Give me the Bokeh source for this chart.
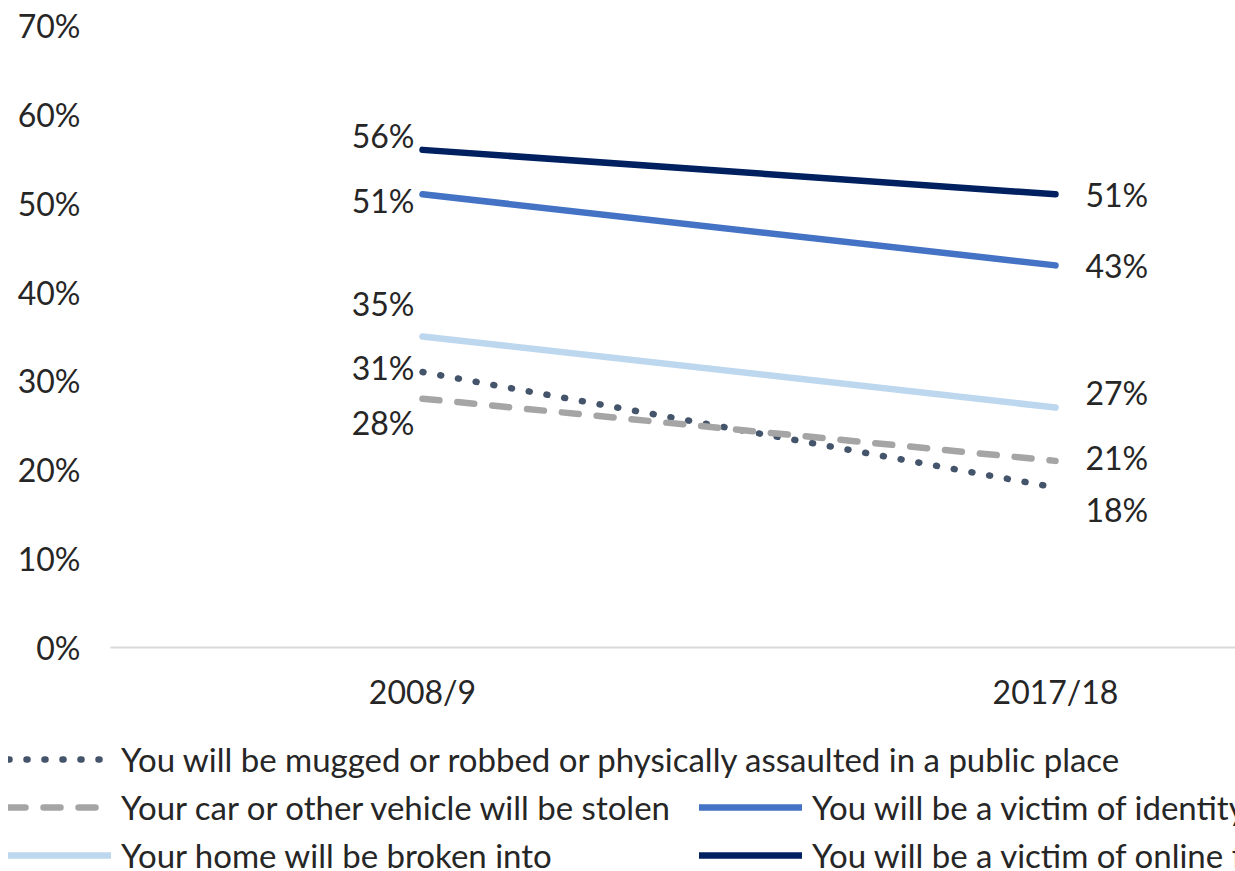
from bokeh.plotting import figure
from bokeh.models import (Range1d, FixedTicker, PrintfTickFormatter, ColumnDataSource,
                          LabelSet, Legend, LegendItem)
from bokeh.core.properties import value
from bokeh.embed import file_html
from bokeh.resources import INLINE

# ---- data ----
periods = ["2008/9", "2017/18"]
series_names = [
    "You will be mugged or robbed or physically assaulted in a public place",
    "Your car or other vehicle will be stolen",
    "Your home will be broken into",
    "You will be a victim of identity theft",
    "You will be a victim of online fraud",
]
mugged = [31, 18]
car = [28, 21]
home = [35, 27]
identity = [51, 43]
online = [56, 51]
y_ticks = [0, 10, 20, 30, 40, 50, 60, 70]

# ---- styles ----
FONT = "Lato"
FS = "32px"
FS_LEG = "33px"
TXT = "#262626"
LW = 6.5
styles = {
    "mugged": dict(color="#44546A", dash="1 17"),
    "car": dict(color="#A5A5A5", dash="17 18"),
    "home": dict(color="#BDD7EE", dash="solid"),
    "identity": dict(color="#4472C4", dash="solid"),
    "online": dict(color="#002060", dash="solid"),
}
# label offsets (screen px, y up): (left dy, right dy)
label_dy = {
    "mugged": (5, -22),
    "car": (-24, 3),
    "home": (33, 15),
    "identity": (-6, 0),
    "online": (14, 0),
}
keys = ["mugged", "car", "home", "identity", "online"]
data = {"mugged": mugged, "car": car, "home": home, "identity": identity, "online": online}
xs = list(range(len(periods)))

# plot geometry (the frame spans the whole canvas; axes are pinned inside it)
X0, X1 = -0.66667, 1.28436      # visible x extent
XA = -0.4929                    # where the value axis sits
Y0, Y1 = -25.21, 72.81          # visible y extent

p = figure(width=1235, height=871,
           min_border_left=0, min_border_right=0, min_border_top=0, min_border_bottom=0,
           x_range=Range1d(X0, X1), y_range=Range1d(Y0, Y1),
           output_backend="svg", toolbar_location=None)
p.outline_line_color = None
p.xgrid.visible = False
p.ygrid.visible = False

# y axis
p.yaxis.fixed_location = XA
p.yaxis.ticker = FixedTicker(ticks=y_ticks)
p.yaxis.formatter = PrintfTickFormatter(format="%d%%")
p.yaxis.axis_line_color = None
p.yaxis.major_tick_line_color = None
p.yaxis.minor_tick_line_color = None
p.yaxis.major_tick_out = 0
p.yaxis.major_label_standoff = 30
p.yaxis.major_label_text_font = FONT
p.yaxis.major_label_text_font_size = FS
p.yaxis.major_label_text_color = TXT

# x axis
p.xaxis.fixed_location = 0
p.xaxis.bounds = (XA, X1)
p.xaxis.ticker = FixedTicker(ticks=xs)
p.xaxis.major_label_overrides = {i: lab for i, lab in enumerate(periods)}
p.xaxis.axis_line_color = "#D9D9D9"
p.xaxis.axis_line_width = 2
p.xaxis.major_tick_line_color = None
p.xaxis.minor_tick_line_color = None
p.xaxis.major_tick_out = 0
p.xaxis.major_label_standoff = 25
p.xaxis.major_label_text_font = FONT
p.xaxis.major_label_text_font_size = FS
p.xaxis.major_label_text_color = TXT

renderers = {}
for k in keys:
    st = styles[k]
    renderers[k] = p.line(xs, data[k], line_color=st["color"], line_width=LW,
                          line_dash=st["dash"], line_cap="round", line_join="round")

# data labels
lx, ly, lt, ldy = [], [], [], []
rx, ry, rt, rdy = [], [], [], []
for k in keys:
    v = data[k]
    lx.append(xs[0]); ly.append(v[0]); lt.append(f"{v[0]}%"); ldy.append(label_dy[k][0])
    rx.append(xs[1]); ry.append(v[1]); rt.append(f"{v[1]}%"); rdy.append(label_dy[k][1])

src_l = ColumnDataSource(dict(x=lx, y=ly, t=lt, dy=ldy))
src_r = ColumnDataSource(dict(x=rx, y=ry, t=rt, dy=rdy))
p.add_layout(LabelSet(x="x", y="y", text="t", source=src_l, x_offset=-8, y_offset="dy",
                      text_align="right", text_baseline="middle", text_font=value(FONT),
                      text_font_size=value(FS), text_color=TXT))
p.add_layout(LabelSet(x="x", y="y", text="t", source=src_r, x_offset=30, y_offset="dy",
                      text_align="left", text_baseline="middle", text_font=value(FONT),
                      text_font_size=value(FS), text_color=TXT))

def make_legend(items, loc):
    return Legend(items=items, location=loc, orientation="vertical",
                  glyph_width=103, glyph_height=48, label_height=48, spacing=0,
                  padding=0, margin=0, label_standoff=10,
                  label_text_font=FONT, label_text_font_size=FS_LEG, label_text_color=TXT,
                  background_fill_alpha=0, border_line_color=None)

leg1 = make_legend([LegendItem(label=series_names[0], renderers=[renderers["mugged"]]),
                    LegendItem(label=series_names[1], renderers=[renderers["car"]]),
                    LegendItem(label=series_names[2], renderers=[renderers["home"]])],
                   (8, -8))
leg2 = make_legend([LegendItem(label=series_names[3], renderers=[renderers["identity"]]),
                    LegendItem(label=series_names[4], renderers=[renderers["online"]])],
                   (699, -8))
p.add_layout(leg1)
p.add_layout(leg2)

open("out.html", "w").write(file_html(p, INLINE))
